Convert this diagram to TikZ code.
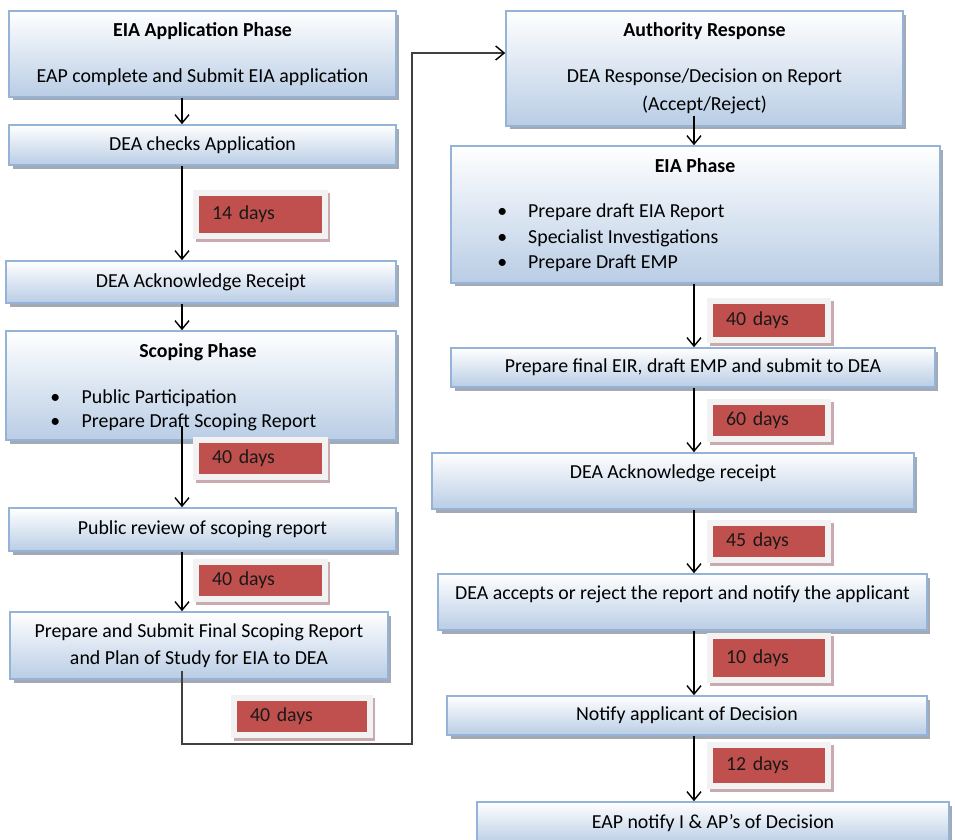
\documentclass[tikz,border=0pt]{standalone}
\usepackage{fontspec}
\setmainfont{Carlito}
\usetikzlibrary{arrows.meta,shadows,positioning}
\definecolor{boxblue}{HTML}{B9CDE5}
\definecolor{boxline}{HTML}{95B3D7}
\definecolor{boxshade}{HTML}{A4AAB4}
\definecolor{dayred}{HTML}{C0504D}
\definecolor{dayframe}{HTML}{F2F2F2}
\definecolor{dayshade}{HTML}{C9AAAE}
\definecolor{linkgray}{HTML}{404040}
\tikzset{
  >={Straight Barb[length=0.17cm,width=0.28cm]},
  flow/.style={->, line width=0.8pt},
  stage/.style={rectangle, draw=boxline, line width=0.9pt, top color=white, bottom color=boxblue,
    drop shadow={shadow xshift=0.07cm, shadow yshift=-0.07cm, fill=boxshade, opacity=1},
    inner sep=0pt, align=center},
  day/.style={rectangle, fill=dayred, text=black!90, inner xsep=0.26cm, inner ysep=0pt,
    text width=1.94cm, align=left, minimum height=0.62cm,
    preaction={draw=dayshade, line width=0.24cm, transform canvas={shift={(0.05cm,-0.06cm)}}},
    preaction={draw=dayframe, line width=0.24cm}}
}
\begin{document}
\begin{tikzpicture}[x=0.02cm, y=-0.02cm, font=\fontsize{11.3}{13.6}\selectfont]
  \useasboundingbox (0,0) rectangle (955,839);
  \coordinate (lx) at (182,0);
  \coordinate (rx) at (694,0);
  \coordinate (turn) at (412,744);

  \node (app) [stage, minimum width=7.74cm, minimum height=1.72cm] at (202.5,54) {\textbf{EIA Application Phase}\\[12.5pt] EAP complete and Submit EIA application};
  \node (check) [stage, minimum width=7.74cm, minimum height=0.8cm] at (202.5,145) {DEA checks Application};
  \node (ackn) [stage, minimum width=7.8cm, minimum height=0.84cm] at (201,282) {DEA Acknowledge Receipt};
  \node (scope) [stage, minimum width=7.8cm, minimum height=2.18cm] at (201,385.5) {};
  \node (scopetitle) at (198,352) {\textbf{Scoping Phase}};
  \node (scopelist) [anchor=west, inner sep=0pt] at (50,411) {\begin{tabular}{@{}l@{\hspace{0.43cm}}l@{}}\textbullet & Public Participation\\ \textbullet & Prepare Draft Scoping Report\end{tabular}};
  \node (review) [stage, minimum width=7.74cm, minimum height=0.86cm] at (202.5,529.5) {Public review of scoping report};
  \node (final) [stage, minimum width=7.56cm, minimum height=1.34cm] at (199,645.5) {Prepare and Submit Final Scoping Report\\[1.7pt] and Plan of Study for EIA to DEA};

  \node (auth) [stage, minimum width=7.94cm, minimum height=2.3cm] at (704.5,68.5) {\textbf{Authority Response}\\[12.5pt] DEA Response/Decision on Report\\[2.3pt] (Accept/Reject)};
  \node (eia) [stage, minimum width=9.78cm, minimum height=2.74cm] at (695.5,214.5) {};
  \node (eiatitle) at (695,166) {\textbf{EIA Phase}};
  \node (eialist) [anchor=west, inner sep=0pt] at (497,238) {\def\arraystretch{1.05}\begin{tabular}{@{}l@{\hspace{0.42cm}}l@{}}\textbullet & Prepare draft EIA Report\\ \textbullet & Specialist Investigations\\ \textbullet & Prepare Draft EMP\end{tabular}};
  \node (eir) [stage, minimum width=9.68cm, minimum height=0.78cm] at (693,367.5) {Prepare final EIR, draft EMP and submit to DEA};
  \node (ack2) [stage, minimum width=9.64cm, minimum height=1.12cm, text depth=11pt] at (673,481) {DEA Acknowledge receipt};
  \node (accept) [stage, minimum width=9.78cm, minimum height=1.12cm, text depth=10.5pt] at (682.5,602) {DEA accepts or reject the report and notify the applicant};
  \node (notify) [stage, minimum width=9.6cm, minimum height=0.78cm] at (687,715.5) {Notify applicant of Decision};
  \node (eap) [stage, minimum width=9.44cm, minimum height=0.84cm] at (713,823) {EAP notify I \& AP’s of Decision};

  \node (d14) [day, minimum height=0.74cm] at (260.5,214.5) {14 days};
  \node (d40a) [day] at (260.5,458) {40 days};
  \node (d40b) [day] at (260.5,580.5) {40 days};
  \node (d40c) [day, text width=2.08cm] at (302,716.5) {40 days};
  \node (d40d) [day, text width=1.72cm, minimum height=0.66cm] at (769,320.5) {40 days};
  \node (d60) [day, text width=1.72cm] at (769,420) {60 days};
  \node (d45) [day, text width=1.72cm] at (769,541.5) {45 days};
  \node (d10) [day, text width=1.72cm, minimum height=0.76cm] at (769,658) {10 days};
  \node (d12) [day, text width=1.72cm, minimum height=0.7cm] at (769,765.5) {12 days};

  \draw [flow] (app.south -| lx) to (check.north -| lx);
  \draw [flow] (check.south -| lx) to (ackn.north -| lx);
  \draw [flow] (ackn.south -| lx) to (scope.north -| lx);
  \draw [flow] ([yshift=0.3cm]scope.south -| lx) to (review.north -| lx);
  \draw [flow] (review.south -| lx) to (final.north -| lx);
  \draw [-{Straight Barb[length=0.17cm,width=0.28cm,color=black]}, line width=0.8pt, draw=linkgray] ([yshift=0.18cm]final.south -| lx) |- (turn) |- ([yshift=0.31cm]auth.west);
  \draw [flow] ([yshift=0.22cm]auth.south -| rx) to (eia.north -| rx);
  \draw [flow] (eia.south -| rx) to (eir.north -| rx);
  \draw [flow] (eir.south -| rx) to (ack2.north -| rx);
  \draw [flow] (ack2.south -| rx) to (accept.north -| rx);
  \draw [flow] (accept.south -| rx) to (notify.north -| rx);
  \draw [flow] (notify.south -| rx) to (eap.north -| rx);
\end{tikzpicture}
\end{document}
